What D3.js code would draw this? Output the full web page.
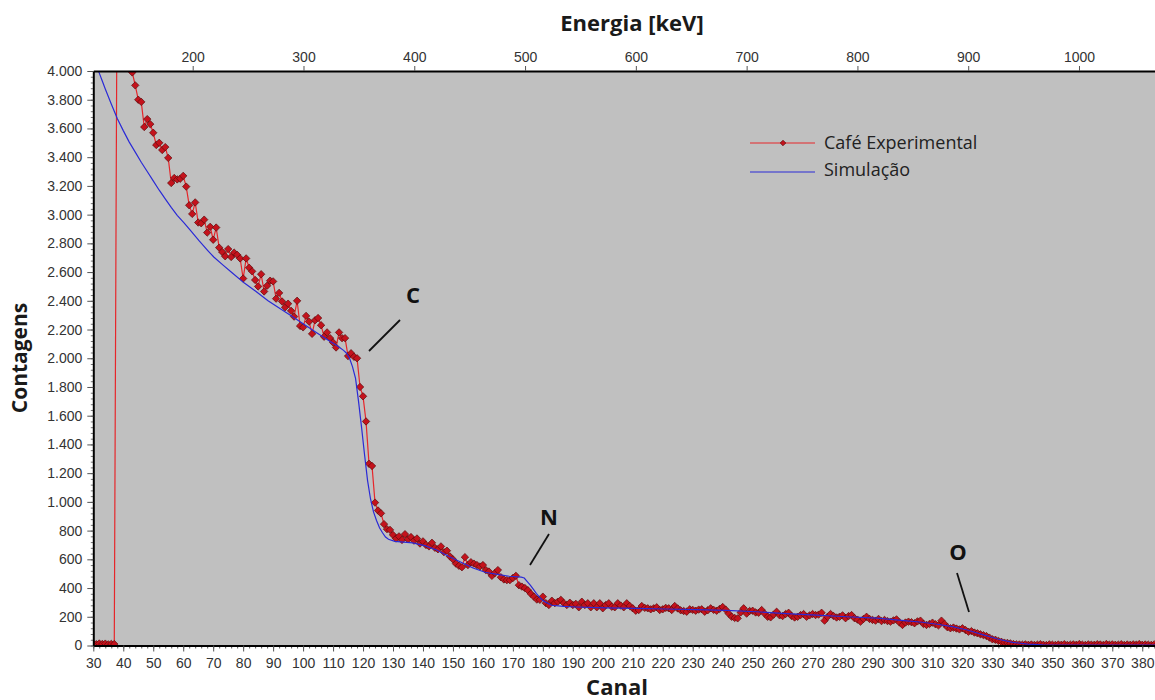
<!DOCTYPE html>
<html>
<head>
<meta charset="utf-8">
<script src="https://cdn.jsdelivr.net/npm/d3@7"></script>
<style>
  body { margin: 0; background: #fff; }
  svg { display: block; }
</style>
</head>
<body>
<div id="chart-area"></div>
<script>
/* Data: espectro do café (canal 30..384) e simulação */
const firstChannel = 30
const expCounts = [
  12, 9, 14, 10, 13, 8, 11, 10,
  5000, 9000, 7000, 5600, 4600,
  3990, 3900, 3800, 3785, 3610, 3665, 3630,
  3570, 3485, 3500, 3450, 3470, 3395, 3220, 3255, 3245, 3250,
  3270, 3195, 3065, 3005, 3085, 2945, 2940, 2965, 2875, 2915,
  2825, 2910, 2770, 2740, 2710, 2760, 2705, 2735, 2720, 2695,
  2555, 2695, 2630, 2605, 2545, 2500, 2585, 2465, 2505, 2540,
  2535, 2415, 2455, 2395, 2355, 2380, 2330, 2290, 2400, 2225,
  2215, 2295, 2255, 2170, 2265, 2280, 2230, 2150, 2180, 2140,
  2110, 2075, 2180, 2140, 2140, 2015, 2035, 2010, 2000, 1800, 1735,
  1560, 1265, 1250, 995, 940, 920, 845, 810, 805, 770,
  745, 760, 735, 775, 740, 755, 730, 745, 710, 725,
  700, 690, 715, 680, 670, 690, 650, 660, 620, 600,
  570, 555, 545, 615, 560, 580, 570, 560, 550, 560,
  525, 515, 485, 505, 525, 475, 460, 455, 455, 470,
  485, 420, 410, 400, 385, 360, 340, 320, 318, 340,
  295, 282, 312, 295, 305, 318, 295, 282, 298, 282,
  290, 266, 305, 282, 294, 266, 294, 266, 294, 259,
  282, 294, 270, 266, 294, 278, 266, 294, 275, 259,
  242, 247, 275, 262, 259, 252, 259, 266, 247, 252,
  262, 259, 247, 275, 258, 245, 240, 235, 252, 248,
  242, 250, 252, 235, 245, 259, 248, 242, 255, 268,
  250, 222, 200, 192, 189, 230, 259, 222, 240, 242,
  230, 228, 247, 222, 200, 196, 215, 235, 210, 205,
  219, 228, 205, 195, 200, 212, 219, 200, 210, 219,
  212, 215, 228, 173, 200, 219, 205, 195, 200, 210, 190,
  205, 212, 190, 180, 166, 185, 200, 185, 178, 173,
  185, 170, 178, 170, 166, 175, 182, 160, 143, 160,
  166, 162, 155, 168, 173, 150, 143, 150, 159, 148,
  140, 173, 150, 127, 120, 125, 118, 112, 120, 108,
  96, 100, 90, 85, 78, 72, 66, 55, 43, 40,
  32, 26, 20, 18, 15, 10, 8, 7, 6, 8,
  5, 7, 4, 6, 9, 5, 3, 8, 6, 4,
  7, 5, 9, 4, 6, 8, 5, 10, 6, 4,
  8, 6, 5, 9, 7, 4, 10, 6, 8, 5,
  6, 9, 4, 7, 5, 8, 6, 10, 5, 7,
  6, 4, 8, 5
]

const simChannels = [30, 31, 32, 33, 34, 35, 36, 37, 38, 40, 42, 44, 46, 48, 50, 52, 54, 56, 58, 60.2,
  62.2, 65.2, 68.2, 70.2, 73.2, 76.3, 80.3, 84.3, 88.3, 92.4, 96.4, 100.4, 104.4, 108.4, 111.5, 113.5, 114.5, 115.5, 116.5, 117.5,
  118.5, 119.5, 120.5, 121.5, 122.5, 123.5, 124.5, 125.5, 126.5, 127.5, 128.5, 130.6, 133.6, 136.6, 140.6, 144.6, 148.7, 152.7, 156.7, 160.7,
  164.8, 168.8, 171.8, 172.8, 173.8, 174.8, 175.8, 176.8, 177.8, 178.8, 179.8, 180.9, 182.9, 186.9, 190.9, 201, 211, 221.1, 231.1, 241.2,
  251.2, 261.3, 271.4, 281.4, 291.5, 301.5, 306.6, 311.6, 316.6, 321.6, 326.7, 331.7, 336.7, 341.8, 346.8, 351.8, 386]
const simCounts = [4120, 4040, 3985, 3930, 3875, 3822, 3770, 3720, 3670, 3585, 3505, 3435, 3365, 3300, 3235, 3170, 3110, 3050, 2995, 2945,
  2895, 2820, 2750, 2705, 2650, 2595, 2525, 2465, 2400, 2345, 2290, 2235, 2180, 2125, 2085, 2055, 2035, 2000, 1940, 1860,
  1700, 1520, 1330, 1150, 1020, 930, 870, 820, 785, 755, 740, 725, 720, 715, 695, 665, 620, 580, 540, 510,
  495, 482, 478, 476, 470, 445, 420, 392, 363, 338, 317, 302, 280, 272, 268, 262, 258, 254, 250, 244,
  235, 222, 212, 200, 190, 172, 162, 148, 131, 108, 76, 45, 22, 9, 4, 2, 2]

const yTicks = [0, 200, 400, 600, 800, 1000, 1200, 1400, 1600, 1800, 2000, 2200, 2400, 2600, 2800, 3000, 3200, 3400, 3600, 3800, 4000]
const xTicks = [30, 40, 50, 60, 70, 80, 90, 100, 110, 120, 130, 140, 150, 160, 170, 180, 190, 200, 210, 220, 230, 240, 250, 260, 270, 280, 290, 300, 310, 320, 330, 340, 350, 360, 370, 380]
const energyTicks = [200, 300, 400, 500, 600, 700, 800, 900, 1000]

const experimental = expCounts.map((v, i) => ({ ch: firstChannel + i, v }))
const simulation = simChannels.map((ch, i) => ({ ch, v: simCounts[i] }))

/* Canvas */
const CANVAS_WIDTH = 1155
const CANVAS_HEIGHT = 700
const margin = { top: 71, right: 0, left: 93.3, bottom: 54.5 }
const width = CANVAS_WIDTH - margin.left - margin.right
const height = CANVAS_HEIGHT - margin.top - margin.bottom

const $canvas = d3.select('#chart-area')
  .append('svg')
  .attr('width', CANVAS_WIDTH)
  .attr('height', CANVAS_HEIGHT)

const $group = $canvas.append('g')
  .attr('transform', `translate(${margin.left}, ${margin.top})`)

/* Scales */
const x = d3.scaleLinear().domain([30, 384.25]).range([0, width])
const y = d3.scaleLinear().domain([0, 4000]).range([height, 0])
// calibração canal -> energia (eixo superior)
const energy = d3.scaleLinear().domain([110.28, 1068.6]).range([0, width])

const ptBR = d3.formatLocale({ decimal: ',', thousands: '.', grouping: [3], currency: ['R$', ''] })
const formatCount = ptBR.format(',')

// plot background
$group.append('rect')
  .attr('width', width)
  .attr('height', height)
  .attr('fill', '#c0c0c0')

$canvas.append('defs').append('clipPath').attr('id', 'plot-clip')
  .append('rect').attr('width', width).attr('height', height)

const $plot = $group.append('g').attr('clip-path', 'url(#plot-clip)')

/* Series */
const line = d3.line().x(d => x(d.ch)).y(d => y(d.v))
const diamond = 'M0,-3.7L3.7,0L0,3.7L-3.7,0Z'

$plot.append('path')
  .datum(experimental)
  .attr('fill', 'none')
  .attr('stroke', '#e6262a')
  .attr('stroke-width', 1.2)
  .attr('d', line)

$plot.selectAll('.marker')
  .data(experimental)
  .enter().append('path')
  .attr('class', 'marker')
  .attr('d', diamond)
  .attr('transform', d => `translate(${x(d.ch)}, ${y(d.v)})`)
  .attr('fill', '#c4121c')
  .attr('stroke', '#5c0a0c')
  .attr('stroke-width', 0.7)

$plot.append('path')
  .datum(simulation)
  .attr('fill', 'none')
  .attr('stroke', '#2a2ad6')
  .attr('stroke-width', 1.2)
  .attr('d', line)

/* Axes */
const styleAxis = ($g, fontSize) => {
  $g.select('.domain').attr('stroke', '#000').attr('stroke-width', 2)
  $g.selectAll('.tick line').attr('stroke', '#555')
  $g.selectAll('.tick text')
    .attr('fill', '#333')
    .attr('font-family', '"Liberation Sans", Arial, sans-serif')
    .attr('font-size', fontSize)
}

const $xMinor = $group.append('g').attr('transform', `translate(0, ${height})`)
  .call(d3.axisBottom(x).tickValues(d3.range(30, 385, 2)).tickSize(3).tickFormat(''))
$xMinor.select('.domain').remove()
$xMinor.selectAll('.tick line').attr('stroke', '#555')

const $yMinor = $group.append('g')
  .call(d3.axisLeft(y).tickValues(d3.range(0, 4001, 40)).tickSize(2.5).tickFormat(''))
$yMinor.select('.domain').remove()
$yMinor.selectAll('.tick line').attr('stroke', '#777')

const $xAxis = $group.append('g').attr('transform', `translate(0, ${height})`)
  .call(d3.axisBottom(x).tickValues(xTicks).tickSize(6).tickPadding(7).tickSizeOuter(0))
styleAxis($xAxis, 14)

const $yAxis = $group.append('g')
  .call(d3.axisLeft(y).tickValues(yTicks).tickSize(6).tickPadding(5).tickSizeOuter(0).tickFormat(formatCount))
styleAxis($yAxis, 14)

const $topAxis = $group.append('g')
  .call(d3.axisTop(energy).tickValues(energyTicks).tickSize(5).tickPadding(4).tickSizeOuter(0).tickFormat(d3.format('d')))
styleAxis($topAxis, 14)

/* Labels */
const titleFont = '"Open Sans", "DejaVu Sans", sans-serif'

$canvas.append('text')
  .attr('x', 632).attr('y', 31)
  .attr('text-anchor', 'middle')
  .attr('font-family', titleFont).attr('font-weight', 'bold').attr('font-size', 22)
  .attr('fill', '#1a1a1a')
  .text('Energia [keV]')

$canvas.append('text')
  .attr('x', 617).attr('y', 695)
  .attr('text-anchor', 'middle')
  .attr('font-family', titleFont).attr('font-weight', 'bold').attr('font-size', 22)
  .attr('fill', '#1a1a1a')
  .text('Canal')

$canvas.append('text')
  .attr('transform', 'translate(27, 358) rotate(-90)')
  .attr('text-anchor', 'middle')
  .attr('font-family', titleFont).attr('font-weight', 'bold').attr('font-size', 21)
  .attr('fill', '#1a1a1a')
  .text('Contagens')

/* Legend */
const $legend = $canvas.append('g').attr('transform', 'translate(750, 143)')
$legend.append('line').attr('x1', 0).attr('x2', 65).attr('stroke', '#e6262a').attr('stroke-width', 1.2)
$legend.append('path').attr('d', 'M0,-2.8L2.8,0L0,2.8L-2.8,0Z')
  .attr('transform', 'translate(33, 0)')
  .attr('fill', '#c4121c').attr('stroke', '#5c0a0c').attr('stroke-width', 0.7)
$legend.append('text').attr('x', 74).attr('y', 0).attr('dy', '0.35em')
  .attr('font-family', titleFont).attr('font-size', 18).attr('fill', '#222')
  .text('Café Experimental')
$legend.append('line').attr('x1', 0).attr('x2', 65).attr('y1', 29).attr('y2', 29)
  .attr('stroke', '#2a2ad6').attr('stroke-width', 1.2)
$legend.append('text').attr('x', 74).attr('y', 27).attr('dy', '0.35em')
  .attr('font-family', titleFont).attr('font-size', 18).attr('fill', '#222')
  .text('Simulação')

/* Annotations C, N, O */
const notes = [
  { label: 'C', tx: 413, ty: 303, x1: 400, y1: 320, x2: 369, y2: 351 },
  { label: 'N', tx: 549, ty: 525, x1: 549, y1: 534, x2: 530, y2: 565 },
  { label: 'O', tx: 958, ty: 560, x1: 957, y1: 573, x2: 969, y2: 612 }
]
notes.forEach(n => {
  $canvas.append('line')
    .attr('x1', n.x1).attr('y1', n.y1).attr('x2', n.x2).attr('y2', n.y2)
    .attr('stroke', '#111').attr('stroke-width', 1.8)
  $canvas.append('text')
    .attr('x', n.tx).attr('y', n.ty)
    .attr('text-anchor', 'middle')
    .attr('font-family', titleFont).attr('font-weight', 'bold').attr('font-size', 22)
    .attr('fill', '#111')
    .text(n.label)
})
</script>
</body>
</html>
